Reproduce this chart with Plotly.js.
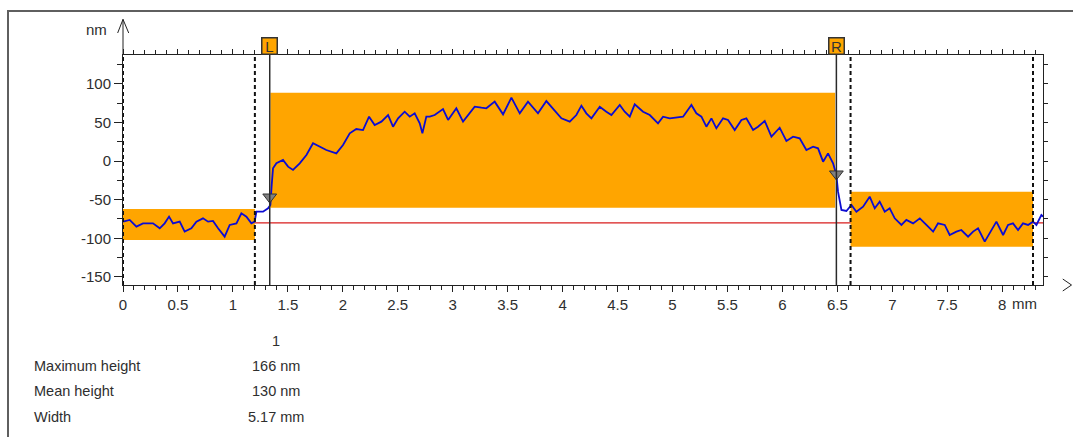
<!DOCTYPE html>
<html>
<head>
<meta charset="utf-8">
<script src="https://cdn.plot.ly/plotly-3.0.1.min.js"></script>
<style>
html,body{margin:0;padding:0;background:#fff;overflow:hidden;}
#chart{position:absolute;left:0;top:0;width:1073px;height:437px;}
#frame{position:absolute;left:7px;top:10px;width:1080px;height:440px;border-left:2px solid #5f5f5f;border-top:2px solid #5f5f5f;pointer-events:none;}
</style>
</head>
<body>
<div id="chart"></div>
<div id="frame"></div>
<script>
// ---- data ----
const profileX = [0.000,0.061,0.122,0.182,0.273,0.334,0.379,0.419,0.455,0.516,0.561,0.622,0.668,0.728,0.774,0.819,0.865,0.925,0.971,1.032,1.077,1.123,1.168,1.198,1.214,1.274,1.320,1.341,1.353,1.365,1.396,1.456,1.502,1.547,1.608,1.669,1.729,1.790,1.850,1.941,2.002,2.063,2.123,2.184,2.239,2.290,2.351,2.412,2.457,2.503,2.563,2.609,2.654,2.700,2.724,2.760,
2.791,2.836,2.912,2.958,3.033,3.094,3.139,3.200,3.261,3.306,3.382,3.458,3.534,3.610,3.685,3.776,3.852,3.913,3.989,4.065,4.125,4.171,4.216,4.262,4.338,4.398,4.444,4.520,4.565,4.611,4.656,4.732,4.793,4.868,4.914,4.975,5.096,5.172,5.217,5.263,5.308,5.354,5.399,5.460,5.505,5.566,5.627,5.672,
5.733,5.778,5.839,5.900,5.975,6.036,6.097,6.157,6.218,6.279,6.324,6.370,6.415,6.461,6.491,6.506,6.537,6.582,6.628,6.673,6.734,6.794,6.840,6.885,6.931,6.976,7.022,7.083,7.128,7.189,7.250,7.310,7.371,7.416,7.477,7.522,7.583,7.628,7.689,7.735,7.780,7.841,7.886,7.947,8.008,8.053,8.098,8.144,8.189,8.235,8.280,8.311,8.356,8.371];
const profileY = [-78.5,-76.3,-85.0,-80.7,-80.7,-87.1,-80.7,-72.0,-80.7,-78.5,-91.4,-87.1,-78.5,-74.2,-78.5,-77.6,-87.1,-97.9,-82.8,-80.7,-67.7,-72.0,-80.7,-78.5,-65.6,-65.6,-61.2,-56.9,-31.0,-9.5,-3.0,1.3,-7.3,-11.6,-3.0,7.8,22.9,18.5,14.2,9.9,20.7,35.8,41.4,40.1,57.4,46.6,50.9,59.5,44.4,55.2,63.8,57.4,61.7,48.7,35.8,57.4,
57.4,59.5,67.3,53.1,68.2,50.9,59.5,70.3,69.0,68.2,76.8,60.4,82.0,61.7,76.8,61.7,77.6,68.2,55.2,50.9,59.5,71.6,61.7,55.2,70.3,63.8,59.5,72.5,63.8,57.4,73.3,63.8,59.5,48.7,57.4,55.2,57.4,72.5,61.7,57.4,44.4,55.2,42.3,55.2,53.1,40.1,53.1,55.2,
40.1,44.4,51.8,31.5,43.1,25.9,31.5,29.3,14.2,18.5,16.4,-0.9,9.9,-3.0,-18.1,-39.7,-63.4,-64.7,-56.9,-65.6,-59.1,-46.2,-61.2,-52.6,-65.6,-61.2,-74.2,-82.8,-76.3,-80.7,-74.2,-82.8,-91.4,-80.7,-82.8,-95.8,-91.4,-89.3,-97.9,-91.4,-87.1,-104.4,-93.6,-78.5,-95.8,-82.8,-80.7,-89.3,-80.7,-82.8,-78.5,-82.8,-69.9,-72.0];

const boxX0 = [0, 1.341, 6.62];
const boxX1 = [1.2, 6.48, 8.28];
const boxY0 = [-102.2, -60.4, -110.9];
const boxY1 = [-62.1, 88.4, -39.7];

const referenceLevel = -80;
const dashedX = [0, 1.2, 6.62, 8.28];
const cursorX = [1.335, 6.491];
const cursorLabels = ["L", "R"];
const cursorMarkY = [-46.6, -16.8];

const xRange = [0, 8.371];
const yRange = [-160.5, 137.2];
const yTickVals = [-150, -100, -50, 0, 50, 100];
const yTickText = ["-150", "-100", "-50", "0", "50", "100"];
const xUnit = "mm";
const yUnit = "nm";

const tableHeader = "1";
const tableLabels = ["Maximum height", "Mean height", "Width"];
const tableValues = ["166 nm", "130 nm", "5.17 mm"];

// ---- styling / build ----
const FONT = '"Liberation Sans", Arial, sans-serif';
const TXT = '#2e2e2e';
const AX = '#222222';
const ORANGE = '#FFA500';

const shapes = [];
for (let i = 0; i < boxX0.length; i++) {
  shapes.push({type:'rect', xref:'x', yref:'y', x0:boxX0[i], x1:boxX1[i], y0:boxY0[i], y1:boxY1[i],
    fillcolor:ORANGE, line:{width:0}, layer:'below'});
}
shapes.push({type:'line', xref:'paper', yref:'y', x0:0, x1:1, y0:referenceLevel, y1:referenceLevel,
  line:{color:'#d81c1c', width:1.2}, layer:'below'});
dashedX.forEach(v => shapes.push({type:'line', xref:'x', yref:'paper', x0:v, x1:v, y0:0, y1:1,
  line:{color:'#111', width:2, dash:'4px,3px'}, layer:'above'}));
cursorX.forEach(v => shapes.push({type:'line', xref:'x', yref:'paper', x0:v, x1:v, y0:0, y1:1,
  line:{color:'#2a2a2a', width:1.5}, layer:'above'}));
// y axis arrow
shapes.push({type:'line', xref:'paper', yref:'paper', x0:0, x1:0, y0:1, y1:1.155, line:{color:AX, width:1}});
shapes.push({type:'path', xref:'paper', yref:'paper', path:'M -0.0058 1.0957 L 0 1.155 L 0.0062 1.0957',
  line:{color:AX, width:1}});
// x axis arrow (right)
shapes.push({type:'path', xref:'paper', yref:'paper', path:'M 1.0215 0.026 L 1.031 0 L 1.0215 -0.026',
  line:{color:AX, width:1}});

const annotations = [];
annotations.push({xref:'paper', yref:'paper', x:-0.0152, y:1.1087, xanchor:'right', yanchor:'middle',
  text:yUnit, showarrow:false, font:{family:FONT, size:15, color:TXT}});
annotations.push({xref:'x', yref:'paper', x:8, xshift:8, y:-0.0826, xanchor:'left', yanchor:'middle',
  text:xUnit, showarrow:false, font:{family:FONT, size:15, color:TXT}});
cursorX.forEach((v,i) => annotations.push({xref:'x', yref:'paper', x:v, y:1.039, xanchor:'center', yanchor:'middle',
  text:cursorLabels[i], showarrow:false, bgcolor:ORANGE, bordercolor:'#333', borderwidth:1.5, borderpad:0,
  width:14, height:15, font:{family:FONT, size:15, color:'#333'}}));
annotations.push({xref:'paper', yref:'paper', x:(276-123)/920, y:(285-340.5)/230, xanchor:'center', yanchor:'middle',
  text:tableHeader, showarrow:false, font:{family:FONT, size:14.5, color:TXT}});
const rowY = [366, 391, 417];
tableLabels.forEach((t,i) => {
  annotations.push({xref:'paper', yref:'paper', x:(32-123)/920, y:(285-rowY[i])/230, xanchor:'left', yanchor:'middle',
    text:t, showarrow:false, font:{family:FONT, size:14.5, color:TXT}});
  annotations.push({xref:'paper', yref:'paper', x:(276-123)/920, y:(285-rowY[i])/230, xanchor:'center', yanchor:'middle',
    text:tableValues[i], showarrow:false, font:{family:FONT, size:14.5, color:TXT}});
});

const traces = [
  {x:profileX, y:profileY, type:'scatter', mode:'lines', line:{color:'#0c0cd2', width:1.8}, hoverinfo:'skip'},
  {x:cursorX, y:cursorMarkY, type:'scatter', mode:'markers',
   marker:{symbol:'triangle-down', size:12, color:'#808080', line:{color:'#333', width:1}}, hoverinfo:'skip'},
  {x:profileX, y:profileY, xaxis:'x2', yaxis:'y2', type:'scatter', mode:'lines', opacity:0, hoverinfo:'skip'}
];

const layout = {
  width:1073, height:437, autosize:false,
  margin:{l:123, r:30, t:55, b:152, pad:0},
  paper_bgcolor:'#fff', plot_bgcolor:'#fff',
  showlegend:false,
  font:{family:FONT, size:15, color:TXT},
  xaxis:{range:xRange, showgrid:false, zeroline:false, showline:true, linecolor:AX, linewidth:1,
    tickmode:'linear', tick0:0, dtick:0.5, ticks:'outside', ticklen:6, tickcolor:AX, tickwidth:1,
    minor:{tick0:0, dtick:0.1, ticks:'outside', ticklen:4, tickcolor:AX, showgrid:false},
    tickfont:{family:FONT, size:15, color:TXT}, fixedrange:true},
  yaxis:{range:yRange, showgrid:false, zeroline:false, showline:true, linecolor:AX, linewidth:1,
    tickmode:'array', tickvals:yTickVals, ticktext:yTickText, ticksuffix:'\u2004',
    ticks:'outside', ticklen:8, tickcolor:AX, tickwidth:1,
    minor:{tickmode:'linear', tick0:0, dtick:25, ticks:'outside', ticklen:5, tickcolor:AX, showgrid:false},
    tickfont:{family:FONT, size:15, color:TXT}, fixedrange:true},
  xaxis2:{range:xRange, overlaying:'x', side:'top', showgrid:false, zeroline:false, showline:true, linecolor:AX,
    tickmode:'linear', tick0:0, dtick:0.5, ticks:'outside', ticklen:5, tickcolor:AX, showticklabels:false,
    minor:{tick0:0, dtick:0.1, ticks:'outside', ticklen:4, tickcolor:AX, showgrid:false}, fixedrange:true},
  yaxis2:{range:yRange, overlaying:'y', side:'right', showgrid:false, zeroline:false, showline:true, linecolor:AX,
    tickmode:'linear', tick0:0, dtick:25, ticks:'outside', ticklen:4, tickcolor:AX, showticklabels:false, fixedrange:true},
  shapes:shapes,
  annotations:annotations
};

Plotly.newPlot('chart', traces, layout, {staticPlot:true, displayModeBar:false});
</script>
</body>
</html>
